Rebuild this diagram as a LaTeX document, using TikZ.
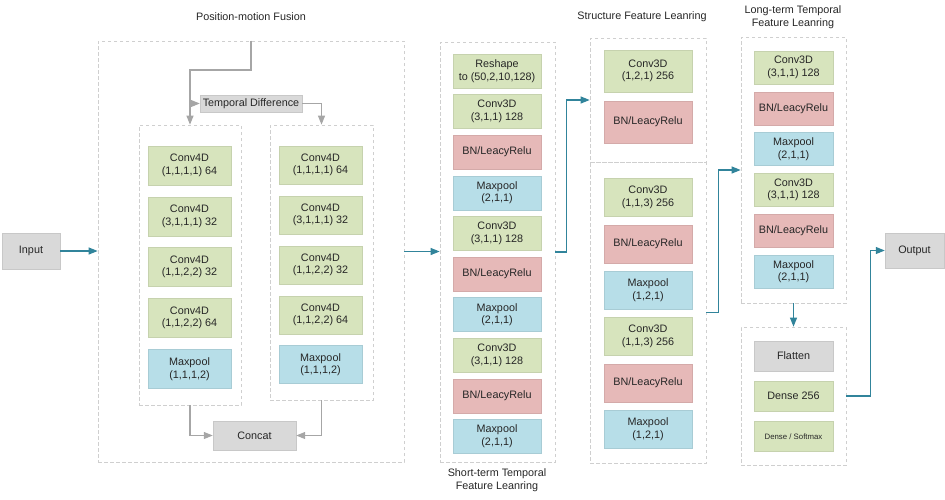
\documentclass[tikz,border=0pt]{standalone}
\usepackage{fontspec}
\setmainfont{Liberation Sans}
\usetikzlibrary{arrows.meta}
\definecolor{cgreen}{HTML}{D7E4BD}
\definecolor{cred}{HTML}{E6B9B8}
\definecolor{cblue}{HTML}{B7DEE8}
\definecolor{cgray}{HTML}{D9D9D9}
\definecolor{cteal}{HTML}{31849B}
\definecolor{cline}{HTML}{A6A6A6}
\definecolor{cdash}{HTML}{CFCFCF}
\definecolor{ctext}{HTML}{262626}
\tikzset{
  sz/.style 2 args={minimum width=#1pt, minimum height=#2pt},
  blk/.style={inner sep=0pt, align=center, text=ctext, line width=0.4pt,
    font=\fontsize{10.8}{12.6}\selectfont},
  gbox/.style={blk, fill=cgreen, draw=cgreen!92!black},
  rbox/.style={blk, fill=cred, draw=cred!92!black},
  bbox/.style={blk, fill=cblue, draw=cblue!92!black},
  ybox/.style={blk, fill=cgray, draw=cgray!92!black},
  container/.style={draw=cdash, dash pattern=on 3.5pt off 2.5pt, line width=0.7pt, inner sep=0pt},
  tarrow/.style={draw=cteal, line width=1.1pt, -{Triangle[length=9pt,width=7pt]}},
  garrow/.style={draw=cline, line width=1.1pt, -{Triangle[length=9pt,width=7pt]}},
  ttl/.style={align=center, text=ctext, inner sep=0pt, font=\fontsize{10.8}{13}\selectfont},
}
\begin{document}
\begin{tikzpicture}[x=1pt,y=-1pt]
\useasboundingbox (0,0) rectangle (945,499);
% containers
\node[container, sz={306}{421}] (fusion) at (251,251.5) {};
\node[container, sz={102}{280}] (linner) at (190,265) {};
\node[container, sz={103}{275}] (rinner) at (321.5,262.5) {};
\node[container, sz={115}{420}] (short) at (497.5,252) {};
\node[container, sz={116}{124}] (stop) at (648,100) {};
\node[container, sz={116}{301}] (sbot) at (648,312.5) {};
\node[container, sz={105}{266}] (long) at (793.5,170) {};
\node[container, sz={105}{138}] (dense) at (793.5,396) {};
% titles
\node[ttl] (t1) at (251,17) {Position-motion Fusion};
\node[ttl] (t2) at (497,480.5) {Short-term Temporal\\Feature Leanring};
\node[ttl] (t3) at (642,16.5) {Structure Feature Leanring};
\node[ttl] (t4) at (793,17) {Long-term Temporal\\Feature Leanring};
% input / output
\node[ybox, sz={58}{36}] (input) at (31,251) {Input};
\node[ybox, sz={59}{35}] (output) at (914.5,250.5) {Output};
% fusion
\node[ybox, sz={102}{17}] (td) at (251,103.5) {Temporal Difference};
\node[gbox, sz={83}{39}] (l1) at (189.5,165.5) {Conv4D\\(1,1,1,1) 64};
\node[gbox, sz={83}{39}] (l2) at (189.5,216.5) {Conv4D\\(3,1,1,1) 32};
\node[gbox, sz={83}{39}] (l3) at (189.5,267) {Conv4D\\(1,1,2,2) 32};
\node[gbox, sz={83}{39}] (l4) at (189.5,318) {Conv4D\\(1,1,2,2) 64};
\node[bbox, sz={83}{39}] (l5) at (189.5,369) {Maxpool\\(1,1,1,2)};
\node[gbox, sz={83}{38}] (r1) at (320.5,165) {Conv4D\\(1,1,1,1) 64};
\node[gbox, sz={83}{38}] (r2) at (320.5,215) {Conv4D\\(3,1,1,1) 32};
\node[gbox, sz={83}{38}] (r3) at (320.5,265) {Conv4D\\(1,1,2,2) 32};
\node[gbox, sz={83}{38}] (r4) at (320.5,315) {Conv4D\\(1,1,2,2) 64};
\node[bbox, sz={83}{38}] (r5) at (320.5,364.5) {Maxpool\\(1,1,1,2)};
\node[ybox, sz={83}{29}] (concat) at (254.5,435.5) {Concat};
% short-term
\node[gbox, sz={88}{34}] (s1) at (497,71) {Reshape\\to (50,2,10,128)};
\node[gbox, sz={88}{34}] (s2) at (497,111.6) {Conv3D\\(3,1,1) 128};
\node[rbox, sz={88}{34}] (s3) at (497,152.2) {BN/LeacyRelu};
\node[bbox, sz={88}{34}] (s4) at (497,192.8) {Maxpool\\(2,1,1)};
\node[gbox, sz={88}{34}] (s5) at (497,233.4) {Conv3D\\(3,1,1) 128};
\node[rbox, sz={88}{34}] (s6) at (497,274) {BN/LeacyRelu};
\node[bbox, sz={88}{34}] (s7) at (497,314.6) {Maxpool\\(2,1,1)};
\node[gbox, sz={88}{34}] (s8) at (497,355.2) {Conv3D\\(3,1,1) 128};
\node[rbox, sz={88}{34}] (s9) at (497,395.8) {BN/LeacyRelu};
\node[bbox, sz={88}{34}] (s10) at (497,436.4) {Maxpool\\(2,1,1)};
% structure
\node[gbox, sz={88}{42}] (a1) at (648,71) {Conv3D\\(1,2,1) 256};
\node[rbox, sz={88}{42}] (a2) at (648,122) {BN/LeacyRelu};
\node[gbox, sz={88}{38}] (b1) at (648,197.5) {Conv3D\\(1,1,3) 256};
\node[rbox, sz={88}{38}] (b2) at (648,243.8) {BN/LeacyRelu};
\node[bbox, sz={88}{38}] (b3) at (648,290.1) {Maxpool\\(1,2,1)};
\node[gbox, sz={88}{38}] (b4) at (648,336.4) {Conv3D\\(1,1,3) 256};
\node[rbox, sz={88}{38}] (b5) at (648,382.7) {BN/LeacyRelu};
\node[bbox, sz={88}{38}] (b6) at (648,429) {Maxpool\\(1,2,1)};
% long-term
\node[gbox, sz={79}{33}] (c1) at (793.5,67.5) {Conv3D\\(3,1,1) 128};
\node[rbox, sz={79}{33}] (c2) at (793.5,108.3) {BN/LeacyRelu};
\node[bbox, sz={79}{33}] (c3) at (793.5,149.1) {Maxpool\\(2,1,1)};
\node[gbox, sz={79}{33}] (c4) at (793.5,189.9) {Conv3D\\(3,1,1) 128};
\node[rbox, sz={79}{33}] (c5) at (793.5,230.7) {BN/LeacyRelu};
\node[bbox, sz={79}{33}] (c6) at (793.5,271.5) {Maxpool\\(2,1,1)};
% dense
\node[ybox, sz={79}{30}] (d1) at (793.5,356) {Flatten};
\node[gbox, sz={79}{30}] (d2) at (793.5,396) {Dense 256};
\node[gbox, sz={79}{30}, font=\fontsize{7.8}{9}\selectfont] (d3) at (793.5,436.5) {Dense / Softmax};
% gray connectors
\coordinate (j1) at (251,70);
\draw[garrow] (fusion.north) -- (j1) -| (linner.north);
\draw[garrow] (linner.north |- td.west) -- (td.west);
\draw[garrow] (td.east) -| (rinner.north);
\draw[garrow] (linner.south) |- (concat.west);
\draw[garrow] (rinner.south) |- (concat.east);
% teal connectors
\draw[tarrow] (input.east) -- (input.east -| fusion.west);
\draw[tarrow] (fusion.east) -- (fusion.east -| short.west);
\draw[tarrow] (short.east) -- ++(11,0) |- (stop.west);
\draw[tarrow] (sbot.east) -- ++(12,0) |- (long.west);
\draw[tarrow] (long.south) -- (dense.north);
\draw[tarrow] (dense.east) -- ++(24,0) |- (output.west);
\end{tikzpicture}
\end{document}
